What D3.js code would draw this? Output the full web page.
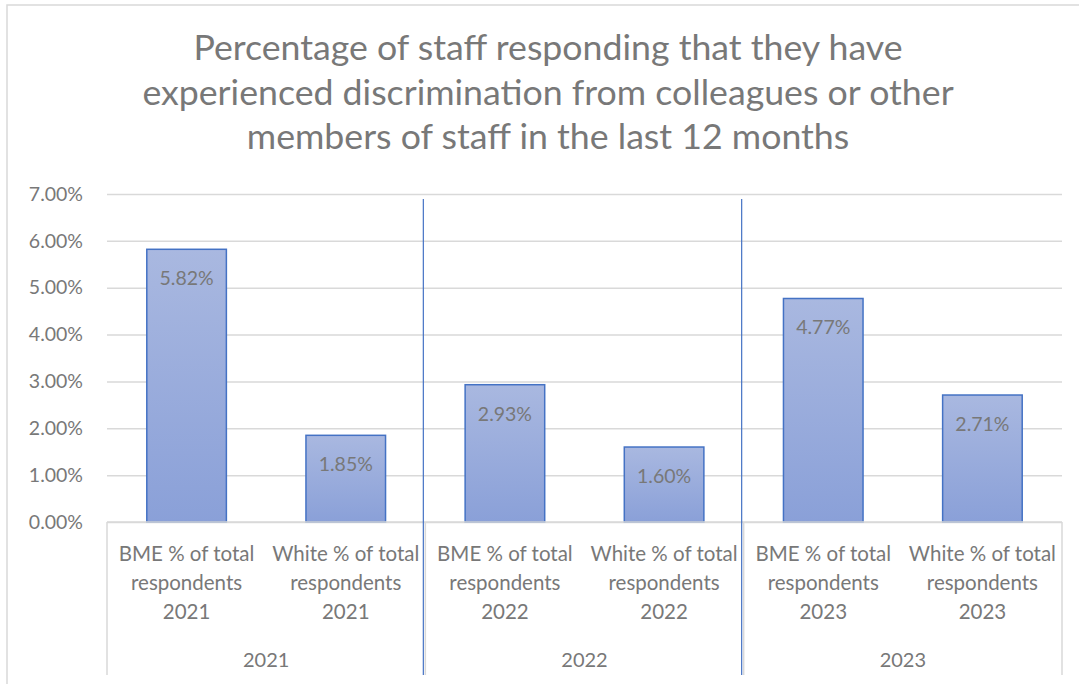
<!DOCTYPE html>
<html>
<head>
<meta charset="utf-8">
<script src="https://cdn.jsdelivr.net/npm/d3@7"></script>
<style>
  html, body { margin: 0; padding: 0; background: #fff; }
  svg { display: block; font-family: Lato, "Open Sans", sans-serif; }
</style>
</head>
<body>
<svg id="chart" width="1079" height="684"></svg>
<script>
const titleLines = [
  "Percentage of staff responding that they have",
  "experienced discrimination from colleagues or other",
  "members of staff in the last 12 months"
];
const groups = ["2021", "2022", "2023"];
const categories = [
  "BME % of total respondents 2021",
  "White % of total respondents 2021",
  "BME % of total respondents 2022",
  "White % of total respondents 2022",
  "BME % of total respondents 2023",
  "White % of total respondents 2023"
];
const categoryLines = [
  ["BME % of total", "respondents", "2021"],
  ["White % of total", "respondents", "2021"],
  ["BME % of total", "respondents", "2022"],
  ["White % of total", "respondents", "2022"],
  ["BME % of total", "respondents", "2023"],
  ["White % of total", "respondents", "2023"]
];
const categoryGroup = ["2021", "2021", "2022", "2022", "2023", "2023"];
const values = [5.82, 1.85, 2.93, 1.60, 4.77, 2.71];
const yTicks = [0, 1, 2, 3, 4, 5, 6, 7];

(function () {
const svg = d3.select("#chart");
const textColor = "#787878";
const plotLeft = 107, plotRight = 1062, plotTop = 194, plotBottom = 522;

// chart border
svg.append("rect").attr("x", 7).attr("y", 5).attr("width", 1090).attr("height", 700)
  .attr("fill", "none").attr("stroke", "#d9d9d9").attr("stroke-width", 1.5);

// gradient
const defs = svg.append("defs");
const grad = defs.append("linearGradient").attr("id", "barGrad")
  .attr("x1", 0).attr("y1", 0).attr("x2", 0).attr("y2", 1);
grad.append("stop").attr("offset", "0%").attr("stop-color", "#a9b8e0");
grad.append("stop").attr("offset", "100%").attr("stop-color", "#8aa0d8");

// title
svg.append("text")
  .attr("text-anchor", "middle")
  .attr("fill", textColor)
  .attr("font-size", 35.7)
  .selectAll("tspan").data(titleLines).join("tspan")
  .attr("x", 548)
  .attr("y", (d, i) => 60 + i * 44.5)
  .text(d => d);

const x = d3.scaleBand().domain(categories).range([plotLeft, plotRight])
  .paddingInner(0.5).paddingOuter(0.25);
const y = d3.scaleLinear().domain([0, 7]).range([plotBottom, plotTop]);

// y axis with gridlines
const yAxis = d3.axisLeft(y).tickValues(yTicks)
  .tickFormat(d => d3.format(".2f")(d) + "%")
  .tickSize(-(plotRight - plotLeft)).tickPadding(24);
const gy = svg.append("g").attr("transform", `translate(${plotLeft},0)`).call(yAxis);
gy.select(".domain").remove();
gy.selectAll(".tick line").attr("stroke", "#d9d9d9").attr("stroke-width", 1.5);
gy.selectAll(".tick text").attr("fill", textColor).attr("font-size", 19.5)
  .attr("font-family", "Lato, sans-serif");

// bars
svg.append("g").selectAll("rect").data(values).join("rect")
  .attr("x", (d, i) => x(categories[i]))
  .attr("y", d => y(d))
  .attr("width", x.bandwidth())
  .attr("height", d => y(0) - y(d))
  .attr("fill", "url(#barGrad)")
  .attr("stroke", "#4472c4")
  .attr("stroke-width", 1.5);

// data labels
svg.append("g").selectAll("text").data(values).join("text")
  .attr("x", (d, i) => x(categories[i]) + x.bandwidth() / 2)
  .attr("y", d => y(d) + 36)
  .attr("text-anchor", "middle")
  .attr("fill", textColor)
  .attr("font-size", 19.5)
  .text(d => d3.format(".2f")(d) + "%");

// category axis
const step = x.step();
svg.append("line").attr("x1", plotLeft).attr("x2", plotRight).attr("y1", plotBottom).attr("y2", plotBottom)
  .attr("stroke", "#d9d9d9").attr("stroke-width", 1.5);
const groupEdges = [plotLeft];
groups.forEach(g => {
  const idx = categoryGroup.lastIndexOf(g);
  groupEdges.push(x(categories[idx]) - x.paddingInner() * step / 2 + step);
});
svg.append("g").selectAll("line").data(groupEdges).join("line")
  .attr("x1", d => d).attr("x2", d => d)
  .attr("y1", plotBottom).attr("y2", 675)
  .attr("stroke", "#d9d9d9").attr("stroke-width", 1.5);

// category labels
const catG = svg.append("g");
categories.forEach((c, i) => {
  catG.append("text")
    .attr("text-anchor", "middle")
    .attr("fill", textColor)
    .attr("font-size", 20.5)
    .selectAll("tspan").data(categoryLines[i]).join("tspan")
    .attr("x", x(c) + x.bandwidth() / 2)
    .attr("y", (d, j) => 561 + j * 29)
    .text(d => d);
});

// group labels
svg.append("g").selectAll("text").data(groups).join("text")
  .attr("x", (g, i) => (groupEdges[i] + groupEdges[i + 1]) / 2)
  .attr("y", 667)
  .attr("text-anchor", "middle")
  .attr("fill", textColor)
  .attr("font-size", 20)
  .text(g => g);

// blue separators between groups
svg.append("g").selectAll("line").data(groupEdges.slice(1, -1)).join("line")
  .attr("x1", d => d - 2).attr("x2", d => d - 2)
  .attr("y1", 199).attr("y2", 675)
  .attr("stroke", "#4472c4").attr("stroke-width", 1.2);
})();
</script>
</body>
</html>
